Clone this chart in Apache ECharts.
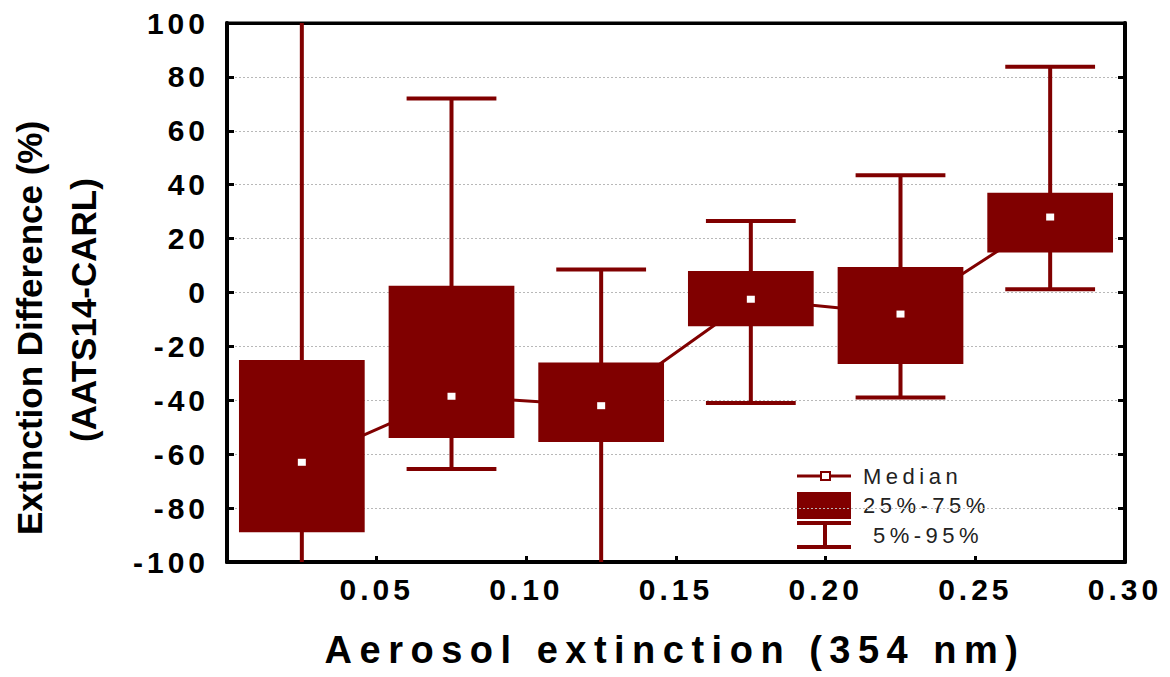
<!DOCTYPE html>
<html>
<head>
<meta charset="utf-8">
<title>Extinction difference box plot</title>
<script src="https://cdn.jsdelivr.net/npm/echarts@6/dist/echarts.min.js"></script>
<style>
  html, body { margin: 0; padding: 0; background: #fff; }
  #main { width: 1170px; height: 677px; }
</style>
</head>
<body>
<div id="main"></div>
<script>
// bin centres of aerosol extinction (354 nm)
const binCenters = [0.025, 0.075, 0.125, 0.175, 0.225, 0.275];
// percentiles of extinction difference (%) per bin
const p5 = [-106, -65.5, -106, -41, -39, 1.2];
const p25 = [-89, -54, -55.5, -12.5, -26.5, 14.8];
const median = [-63, -38.5, -42, -2.5, -8, 28];
const p75 = [-25, 2.5, -26, 8, 9.5, 37];
const p95 = [106, 72, 8.5, 26.5, 43.5, 83.8];
const legendLabels = ['Median', '25%-75%', '5%-95%'];

const RED = '#800000';
const FONT = "'Liberation Sans', Arial, Helvetica, sans-serif";
const BOX_W = 0.042;
const CAP_W = 0.030;

const boxData = binCenters.map((x, i) => [x, p5[i], p25[i], median[i], p75[i], p95[i]]);
const medianLine = binCenters.map((x, i) => [x, median[i]]);

const chart = echarts.init(document.getElementById('main'), null, { renderer: 'svg' });

function renderBox(params, api) {
    const x = api.value(0);
    const lo = api.coord([x, api.value(1)]);
    const q1 = api.coord([x, api.value(2)]);
    const md = api.coord([x, api.value(3)]);
    const q3 = api.coord([x, api.value(4)]);
    const hi = api.coord([x, api.value(5)]);
    const half = api.size([BOX_W, 0])[0] / 2;
    const cap = api.size([CAP_W, 0])[0] / 2;
    const cx = lo[0];
    const stroke = { stroke: RED, lineWidth: 4 };
    return {
        type: 'group',
        children: [
            { type: 'line', shape: { x1: cx, y1: lo[1], x2: cx, y2: hi[1] }, style: stroke },
            { type: 'line', shape: { x1: cx - cap, y1: lo[1], x2: cx + cap, y2: lo[1] }, style: stroke },
            { type: 'line', shape: { x1: cx - cap, y1: hi[1], x2: cx + cap, y2: hi[1] }, style: stroke },
            { type: 'rect', shape: { x: cx - half, y: q3[1], width: half * 2, height: q1[1] - q3[1] }, style: { fill: RED } },
            { type: 'rect', shape: { x: cx - 4, y: md[1] - 3.5, width: 8, height: 7 }, style: { fill: '#fff' } }
        ]
    };
}

const tickFont = { fontFamily: FONT, fontWeight: 'bold', fontSize: 30, color: '#000' };

const option = {
    animation: false,
    grid: { left: 227, right: 45, top: 23, bottom: 115, show: true, borderColor: '#000', borderWidth: 3 },
    xAxis: [
        {
            type: 'value', min: 0, max: 0.30, interval: 0.05,
            axisLine: { show: true, onZero: false, lineStyle: { color: '#000', width: 4 } },
            axisTick: { show: true, inside: true, length: 6, lineStyle: { color: '#000', width: 3 } },
            axisLabel: Object.assign({ showMinLabel: false, margin: 12, formatter: v => v.toFixed(2) }, tickFont),
            splitLine: { show: false }
        },
        {
            type: 'value', position: 'top', min: 0, max: 0.30, interval: 0.05,
            axisLine: { show: true, onZero: false, lineStyle: { color: '#000', width: 3 } },
            axisTick: { show: false }, axisLabel: { show: false }, splitLine: { show: false }
        }
    ],
    yAxis: [
        {
            type: 'value', min: -100, max: 100, interval: 20,
            axisLine: { show: true, onZero: false, lineStyle: { color: '#000', width: 4 } },
            axisTick: { show: true, inside: true, length: 7, lineStyle: { color: '#000', width: 3 } },
            axisLabel: Object.assign({ margin: 18 }, tickFont),
            splitLine: { show: true, lineStyle: { color: '#b8b8b8', width: 1, type: [2, 2] } }
        },
        {
            type: 'value', position: 'right', min: -100, max: 100, interval: 20,
            axisLine: { show: true, onZero: false, lineStyle: { color: '#000', width: 4 } },
            axisTick: { show: true, inside: true, length: 7, lineStyle: { color: '#000', width: 3 } },
            axisLabel: { show: false }, splitLine: { show: false }
        }
    ],
    series: [
        {
            type: 'line', data: medianLine, symbol: 'none', z: 1,
            lineStyle: { color: RED, width: 3 }
        },
        {
            type: 'custom', data: boxData, renderItem: renderBox, clip: true, z: 2,
            encode: { x: 0, y: [1, 2, 3, 4, 5] }
        }
    ],
    graphic: [
        // y axis title
        { type: 'text', x: 29, y: 328, rotation: Math.PI / 2, style: { text: 'Extinction Difference (%)', font: 'bold 35px ' + FONT, fill: '#000', align: 'center', verticalAlign: 'middle' } },
        { type: 'text', x: 83, y: 310, rotation: Math.PI / 2, style: { text: '(AATS14-CARL)', font: 'bold 35px ' + FONT, fill: '#000', align: 'center', verticalAlign: 'middle' } },
        // x axis title
        { type: 'text', x: 675, y: 650, style: { text: 'Aerosol extinction (354 nm)', font: 'bold 38px ' + FONT, fill: '#000', align: 'center', verticalAlign: 'middle' } },
        // legend
        { type: 'line', shape: { x1: 797, y1: 476, x2: 851, y2: 476 }, style: { stroke: RED, lineWidth: 3 } },
        { type: 'rect', shape: { x: 821, y: 472, width: 9, height: 8 }, style: { fill: '#fff', stroke: RED, lineWidth: 2 } },
        { type: 'rect', shape: { x: 797, y: 492, width: 54, height: 27 }, style: { fill: RED } },
        { type: 'line', shape: { x1: 797, y1: 523, x2: 851, y2: 523 }, style: { stroke: RED, lineWidth: 4 } },
        { type: 'line', shape: { x1: 797, y1: 547, x2: 851, y2: 547 }, style: { stroke: RED, lineWidth: 4 } },
        { type: 'line', shape: { x1: 825, y1: 523, x2: 825, y2: 547 }, style: { stroke: RED, lineWidth: 4 } },
        { type: 'text', x: 863, y: 476, style: { text: legendLabels[0], font: '22px ' + FONT, fill: '#222', verticalAlign: 'middle' } },
        { type: 'text', x: 863, y: 505, style: { text: legendLabels[1], font: '22px ' + FONT, fill: '#222', verticalAlign: 'middle' } },
        { type: 'text', x: 873, y: 535, style: { text: legendLabels[2], font: '22px ' + FONT, fill: '#222', verticalAlign: 'middle' } }
    ]
};

chart.setOption(option);

// the original plot uses wide letter spacing, add it to the svg text
const spacing = { '30px': '4px', '38px': '7.5px', '22px': '4.5px' };
chart.getDom().querySelectorAll('text').forEach(t => {
    const ls = spacing[t.style.fontSize];
    if (ls) t.style.letterSpacing = ls;
});
</script>
</body>
</html>
